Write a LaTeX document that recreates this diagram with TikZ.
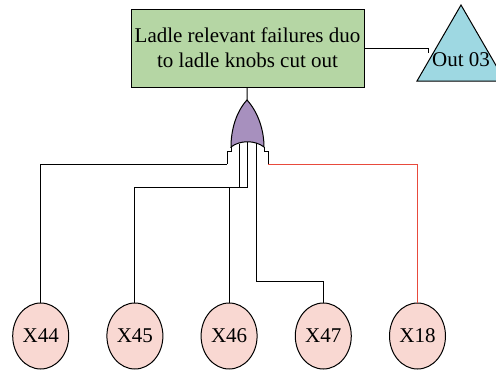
\documentclass[tikz,border=0pt]{standalone}
\usepackage{fontspec}
\setmainfont{Liberation Serif}
\usetikzlibrary{positioning,shapes.geometric}

\definecolor{topgreen}{HTML}{B5D6A4}
\definecolor{outblue}{HTML}{9ED8E2}
\definecolor{gatepurple}{HTML}{A790BE}
\definecolor{evtpink}{HTML}{F9D8D2}
\definecolor{redlink}{HTML}{E84A3C}

\begin{document}
\begin{tikzpicture}[x=1pt, y=-1pt, line width=1pt, font=\fontsize{21}{25}\selectfont,
  topevt/.style={rectangle, draw, fill=topgreen, minimum width=233pt, minimum height=78pt, align=center, inner sep=0pt},
  basic/.style={ellipse, draw, fill=evtpink, minimum width=56pt, minimum height=66pt, inner sep=0pt}]
  \useasboundingbox (0,0) rectangle (496,375);
  \node[topevt] (top) at (247.5,48) {Ladle relevant failures duo\\to ladle knobs cut out};
  % transfer triangle
  \draw[fill=outblue] (461,5) -- (417,81) -- (505,81) -- cycle;
  \node (out) at (461,60) {Out 03};
  \coordinate (outin) at (428,53);
  \draw (top) -| (outin);
  % or gate
  \coordinate (gtop) at (247,100);
  \draw[fill=gatepurple] (gtop) .. controls (236,112) and (231,130) .. (231,147)
    .. controls (240,140) and (255,140) .. (264,147)
    .. controls (264,130) and (258,112) .. (gtop) -- cycle;
  \draw (231,147) -- (231,151) -- (227,151) -- (227,164);
  \draw (264,147) -- (264,151) -- (268,151) -- (268,164);
  \draw (top) -- (gtop);
  \coordinate (g1) at (227,164);
  \coordinate (g2) at (239,143.5);
  \coordinate (g3) at (247,142);
  \coordinate (g4) at (256,143);
  \coordinate (g5) at (268,164);
  % basic events
  \foreach \lbl [count=\i] in {X44,X45,X46,X47,X18}
    \node[basic] (e\i) at ({40.7+94.2*(\i-1)},336) {\lbl};
  \draw (g1) -| (e1);
  \draw (g2) -- (239,187) -| (e2);
  \draw (g3) -- (247,187) -| (e3);
  \draw (g4) -- (256,281) -| (e4);
  \draw[redlink] (g5) -| (e5);
\end{tikzpicture}
\end{document}
